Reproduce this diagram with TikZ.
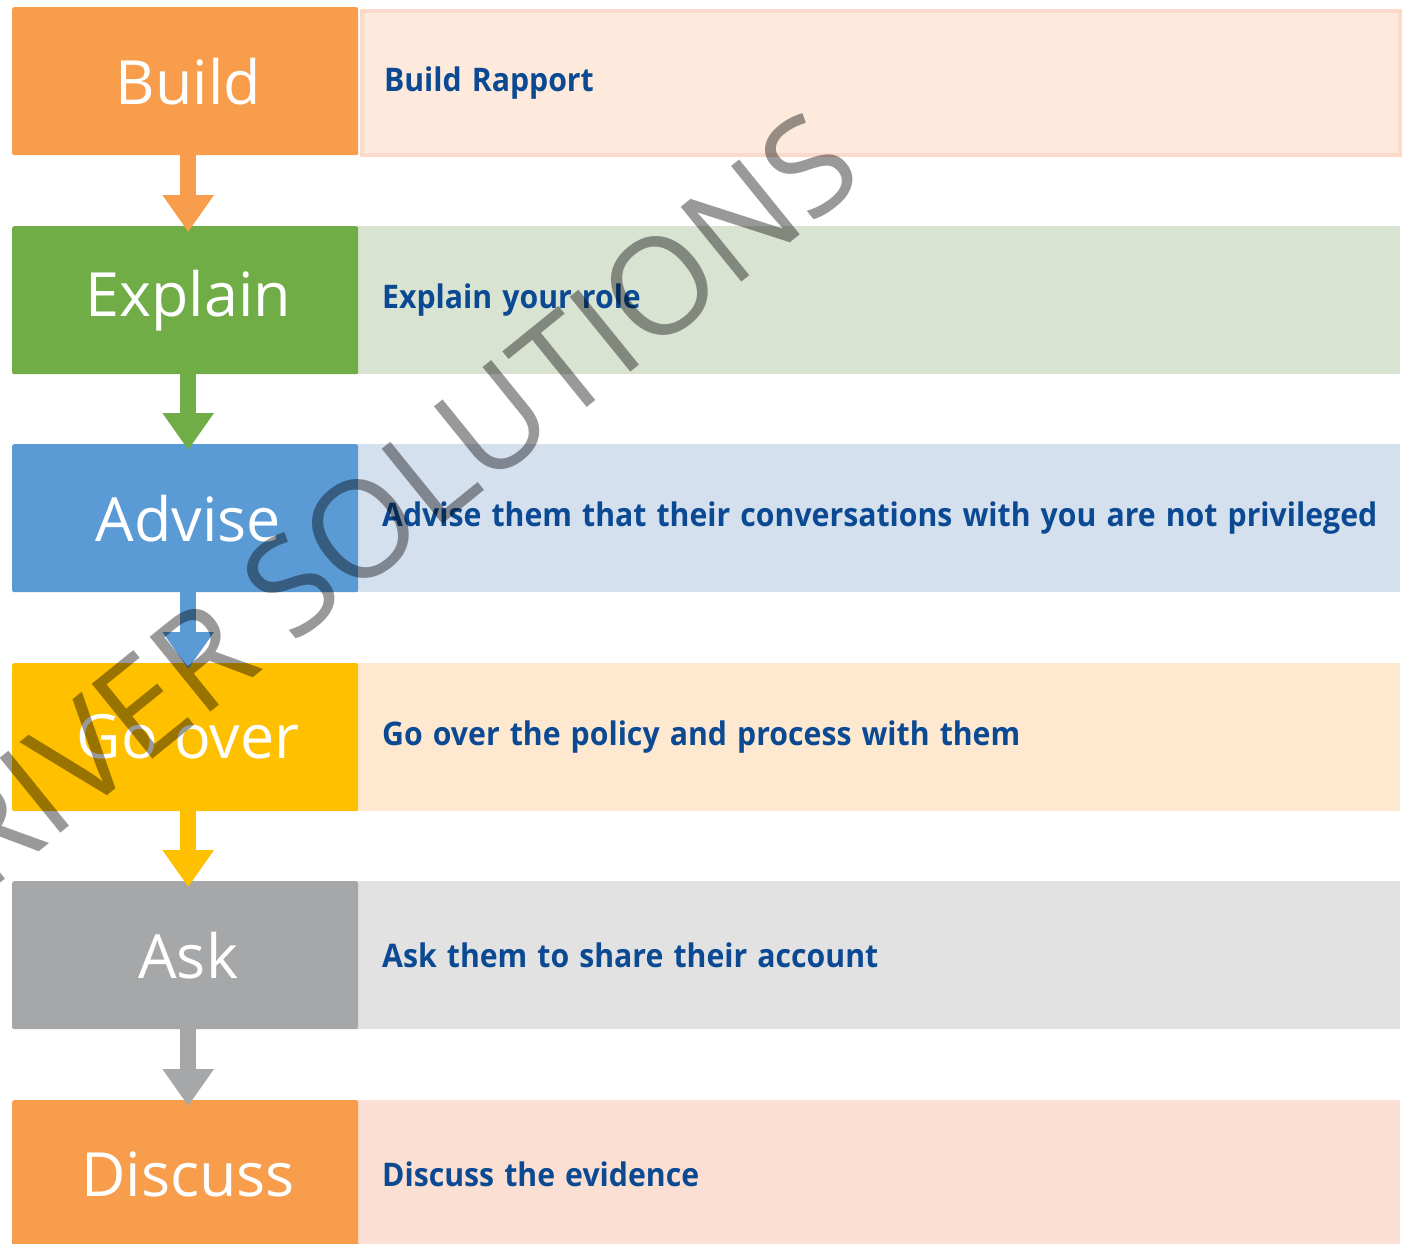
\documentclass[tikz,border=0pt]{standalone}
\usepackage{fontspec}
\usepackage{graphicx}
\setmainfont{Open Sans}
\newcommand\rtext[1]{\scalebox{0.93}[1]{#1}}
\usetikzlibrary{arrows.meta}
\definecolor{cOrange}{HTML}{F79D4B}
\definecolor{cGreen}{HTML}{70AD47}
\definecolor{cBlue}{HTML}{5B9BD5}
\definecolor{cYellow}{HTML}{FFC000}
\definecolor{cGray}{HTML}{A6A7A9}
\definecolor{lOrange}{HTML}{FDEADD}
\definecolor{lOrangeB}{HTML}{FBDACB}
\definecolor{lGreen}{HTML}{D9E3D2}
\definecolor{lBlue}{HTML}{D5E0EF}
\definecolor{lYellow}{HTML}{FEE8D0}
\definecolor{lGray}{HTML}{E2E2E2}
\definecolor{lPeach}{HTML}{FADFD2}
\definecolor{cText}{HTML}{0B4A93}
\begin{document}
\begin{tikzpicture}[x=1pt,y=-1pt,
  lbox/.style={rectangle, anchor=north west, minimum width=346pt, minimum height=148pt, inner sep=0pt, rounded corners=2pt, text=white, font=\fontsize{61}{61}\selectfont, execute at begin node=\hspace*{6pt}},
  rbox/.style={rectangle, anchor=north west, minimum width=1042pt, minimum height=148pt, inner xsep=24pt, inner ysep=0pt, text width=994pt, align=left, text=cText, font=\bfseries\fontsize{32.5}{33}\selectfont},
  flowarrow/.style={line width=16pt, -{Triangle[width=49pt,length=37pt]}, shorten >=-6pt},
  wmark/.style={text=black, text opacity=0.4, font=\fontsize{135}{135}\selectfont, rotate=39, inner sep=0pt}
]
\useasboundingbox (0,0) rectangle (1413,1244);
\fill[white] (0,0) rectangle (1413,1244);

% right boxes
\node[rbox, fill=lOrange, draw=lOrangeB, line width=4pt, minimum width=1038pt, minimum height=144pt, inner xsep=22pt] (R1) at (360,9) {\rtext{Build Rapport}};
\node[rbox, fill=lGreen] (R2) at (358,226) {\rtext{Explain your role}};
\node[rbox, fill=lBlue] (R3) at (358,444) {\rtext{Advise them that their conversations with you are not privileged}};
\node[rbox, fill=lYellow] (R4) at (358,663) {\rtext{Go over the policy and process with them}};
\node[rbox, fill=lGray] (R5) at (358,881) {\rtext{Ask them to share their account}};
\node[rbox, fill=lPeach] (R6) at (358,1100) {\rtext{Discuss the evidence}};

% left boxes
\node[lbox, fill=cOrange] (L1) at (12,7) {Build};
\node[lbox, fill=cGreen] (L2) at (12,226) {Explain};
\node[lbox, fill=cBlue] (L3) at (12,444) {Advise};
\node[lbox, fill=cYellow] (L4) at (12,663) {Go over};
\node[lbox, fill=cGray] (L5) at (12,881) {Ask};
\node[lbox, fill=cOrange] (L6) at (12,1100) {Discuss};

% arrows
\draw[flowarrow, cOrange] ([xshift=3pt]L1.south) -- ([xshift=3pt]L2.north);
\draw[flowarrow, cGreen] ([xshift=3pt]L2.south) -- ([xshift=3pt]L3.north);
\draw[flowarrow, cBlue] ([xshift=3pt]L3.south) -- ([xshift=3pt]L4.north);
\draw[flowarrow, cYellow] ([xshift=3pt]L4.south) -- ([xshift=3pt]L5.north);
\draw[flowarrow, cGray] ([xshift=3pt]L5.south) -- ([xshift=3pt]L6.north);

% watermark
\node[wmark, anchor=base east] (wm) at (868,180) {RIVER SOLUTIONS};
\end{tikzpicture}
\end{document}
